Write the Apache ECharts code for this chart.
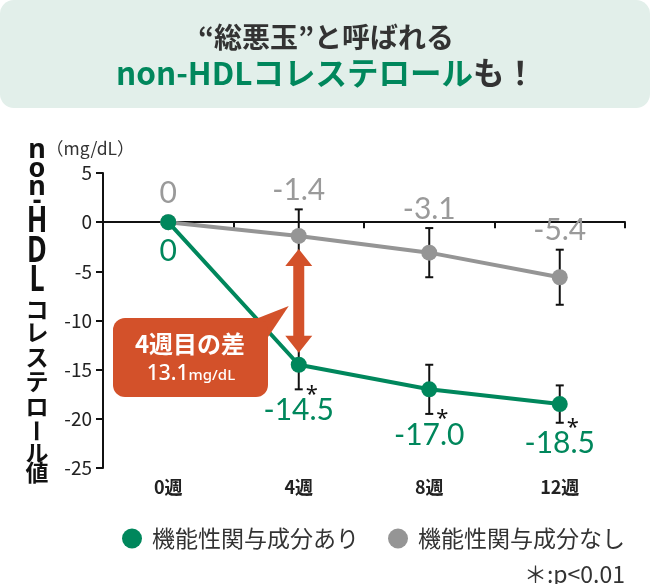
<!DOCTYPE html>
<html><head><meta charset="utf-8">
<script src="https://cdn.jsdelivr.net/npm/echarts@6/dist/echarts.min.js"></script>
<style>html,body{margin:0;padding:0;background:#fff}#c{width:650px;height:584px}</style>
</head><body><div id="c"></div>
<script>
const categories = ['0週', '4週', '8週', '12週'];
const yMin = -25, yMax = 5, yInterval = 5;
const seriesNames = ['機能性関与成分あり', '機能性関与成分なし'];
const withValues = [0, -14.5, -17.0, -18.5];
const withSD = [0, 2.5, 2.5, 1.9];
const withLabels = ['0', '-14.5', '-17.0', '-18.5'];
const withSig = [false, true, true, true];
const withoutValues = [0, -1.4, -3.1, -5.6];
const withoutSD = [0, 2.7, 2.5, 2.8];
const withoutLabels = ['0', '-1.4', '-3.1', '-5.4'];
const diffIndex = 1;
const diffValue = '13.1';

(function () {
const GREEN = '#00875c', GRAY = '#959595', GRAYTXT = '#9a9a9a', ORANGE = '#d3512a', INK = '#222';
const CJK = '"Noto Sans CJK JP", "Noto Sans", sans-serif';

const chart = echarts.init(document.getElementById('c'), null, {renderer: 'canvas'});

function errRender(params, api) {
  const i = api.value(0), v = api.value(1), sd = api.value(2);
  if (!sd) return null;
  const t = api.coord([i, v + sd]), b = api.coord([i, v - sd]);
  const cw = 4, st = {stroke: '#111', lineWidth: 2, fill: null};
  return {type: 'group', children: [
    {type: 'line', shape: {x1: t[0], y1: t[1], x2: b[0], y2: b[1]}, style: st},
    {type: 'line', shape: {x1: t[0] - cw, y1: t[1], x2: t[0] + cw, y2: t[1]}, style: st},
    {type: 'line', shape: {x1: b[0] - cw, y1: b[1], x2: b[0] + cw, y2: b[1]}, style: st}
  ]};
}
function labelRender(labels, sig, above, color) {
  return function (params, api) {
    const i = api.value(0), v = api.value(1), sd = api.value(2);
    const p = api.coord([i, v]);
    const children = [];
    let y;
    if (above) {
      const t = api.coord([i, v + sd]);
      y = Math.min(t[1] - 19, p[1] - 29);
    } else {
      const b = api.coord([i, v - sd]);
      y = Math.max(b[1] + 21, p[1] + 29);
      if (sig && sig[params.dataIndex]) {
        children.push({type: 'text', x: b[0] + 13, y: b[1] + 5,
          style: {text: '*', fill: '#111', font: '22px "Noto Sans", sans-serif', align: 'center', verticalAlign: 'middle'}});
      }
    }
    children.push({type: 'text', x: p[0], y: y,
      style: {text: labels[params.dataIndex], fill: color, font: '30px Lato, sans-serif', align: 'center', verticalAlign: 'middle'}});
    return {type: 'group', children: children};
  };
}

const withData = withValues.map((v, i) => [i, v, withSD[i]]);
const withoutData = withoutValues.map((v, i) => [i, v, withoutSD[i]]);

chart.setOption({
  animation: false,
  grid: {left: 103, right: 25, top: 173, bottom: 116, containLabel: false},
  legend: {
    data: seriesNames, left: 122, top: 527, padding: 0, icon: 'circle', itemWidth: 20, itemHeight: 20, itemGap: 29,
    selectedMode: false,
    textStyle: {fontSize: 23, color: '#333', fontFamily: CJK, padding: [0, 0, 0, 5]}
  },
  xAxis: {
    type: 'category', data: categories, boundaryGap: true,
    axisLine: {lineStyle: {color: '#111', width: 2}},
    axisTick: {show: true, length: 6, lineStyle: {color: '#111', width: 2}},
    axisLabel: {fontSize: 18, fontWeight: 'bold', color: INK, fontFamily: CJK, margin: 10}
  },
  yAxis: {
    type: 'value', min: yMin, max: yMax, interval: yInterval,
    axisLine: {show: true, lineStyle: {color: '#111', width: 2}},
    axisTick: {show: true, length: 7, lineStyle: {color: '#111', width: 2}},
    splitLine: {show: false},
    axisLabel: {fontSize: 19, color: INK, fontFamily: CJK, margin: 11}
  },
  series: [
    {type: 'custom', name: 'err-gray', renderItem: errRender, data: withoutData, z: 1, silent: true},
    {type: 'custom', name: 'err-green', renderItem: errRender, data: withData, z: 1, silent: true},
    {type: 'line', name: seriesNames[1], data: withoutValues, z: 2, color: GRAY,
      lineStyle: {color: GRAY, width: 4}, itemStyle: {color: GRAY}, symbol: 'circle', symbolSize: 16, emphasis: {disabled: true}},
    {type: 'line', name: seriesNames[0], data: withValues, z: 3, color: GREEN,
      lineStyle: {color: GREEN, width: 4}, itemStyle: {color: GREEN}, symbol: 'circle', symbolSize: 16, emphasis: {disabled: true}},
    {type: 'custom', name: 'lbl-gray', renderItem: labelRender(withoutLabels, null, true, GRAYTXT), data: withoutData, z: 5, silent: true},
    {type: 'custom', name: 'lbl-green', renderItem: labelRender(withLabels, withSig, false, GREEN), data: withData, z: 5, silent: true}
  ]
});

// annotations
const pG = chart.convertToPixel({gridIndex: 0}, [diffIndex, withoutValues[diffIndex]]);
const pW = chart.convertToPixel({gridIndex: 0}, [diffIndex, withValues[diffIndex]]);
const ax = pG[0], aTop = pG[1] + 13, aBot = pW[1] - 12, hh = 17, hw = 13.5, sw = 5.5;
const arrowPts = [[ax, aTop], [ax + hw, aTop + hh], [ax + sw, aTop + hh], [ax + sw, aBot - hh], [ax + hw, aBot - hh], [ax, aBot],
  [ax - hw, aBot - hh], [ax - sw, aBot - hh], [ax - sw, aTop + hh], [ax - hw, aTop + hh]];

// vertical y-axis title
const vt = [
  ['n', 150.5, 'l'], ['o', 169, 'l'], ['n', 187.5, 'l'], ['-', 201, 'l'], ['H', 222.5, 'u'], ['D', 252.5, 'u'], ['L', 281.5, 'u'],
  ['コ', 309, 'c'], ['レ', 332, 'c'], ['ス', 357, 'c'], ['テ', 381, 'c'], ['ロ', 406, 'c'], ['ー', 431, 'r'], ['ル', 452, 'c'], ['値', 472, 'c']
];
const vtEls = vt.map(([ch, y, k]) => {
  const el = {type: 'text', x: 37, y: y, z: 10,
    style: {text: ch, fill: '#111', align: 'center', verticalAlign: 'middle',
      font: k === 'c' || k === 'r' ? 'bold 23px ' + CJK : 'bold 27px "Noto Sans", sans-serif'}};
  if (k === 'u') { el.scaleY = 1.3; el.originX = 0; el.originY = 0; }
  if (k === 'r') { el.rotation = -Math.PI / 2; el.originX = 0; el.originY = 0; }
  return el;
});

chart.setOption({
  graphic: [
    {type: 'rect', shape: {x: 0, y: 0, width: 650, height: 108, r: 14}, style: {fill: '#e2efea'}, z: 0},
    {type: 'text', x: 326, y: 37, style: {text: '“総悪玉”と呼ばれる', font: 'bold 28px ' + CJK, fill: '#333', align: 'center', verticalAlign: 'middle'}},
    {type: 'text', x: 326, y: 73, style: {text: '{g|non-HDLコレステロール}{d|も！}', align: 'center', verticalAlign: 'middle',
      rich: {g: {font: 'bold 31.5px ' + CJK, fill: GREEN}, d: {font: 'bold 31.5px ' + CJK, fill: '#333'}}}},
    {type: 'text', x: 46, y: 148, style: {text: '（mg/dL）', font: '17.5px ' + CJK, fill: '#333', align: 'left', verticalAlign: 'middle'}},
    ...vtEls,
    {type: 'polygon', z: 20, shape: {points: arrowPts}, style: {fill: ORANGE}},
    {type: 'polygon', z: 20, shape: {points: [[248, 322], [pG[0] - 10, 306], [266, 340]]}, style: {fill: ORANGE}},
    {type: 'rect', z: 20, shape: {x: 113, y: 318, width: 155, height: 79, r: 12}, style: {fill: ORANGE}},
    {type: 'text', z: 21, x: 190, y: 344, style: {text: '4週目の差', font: 'bold 24px ' + CJK, fill: '#fff', align: 'center', verticalAlign: 'middle'}},
    {type: 'text', z: 21, x: 191, y: 374, style: {text: '{a|' + diffValue + '}{b|mg/dL}', align: 'center', verticalAlign: 'middle',
      rich: {a: {font: '500 21px "Noto Sans", sans-serif', fill: '#fff'}, b: {font: '500 15px "Noto Sans", sans-serif', fill: '#fff', padding: [4, 0, 0, 0]}}}},
    {type: 'text', x: 625, y: 574, style: {text: '＊:p<0.01', font: '23px ' + CJK, fill: '#333', align: 'right', verticalAlign: 'middle'}}
  ]
});
})();
</script>
</body></html>
